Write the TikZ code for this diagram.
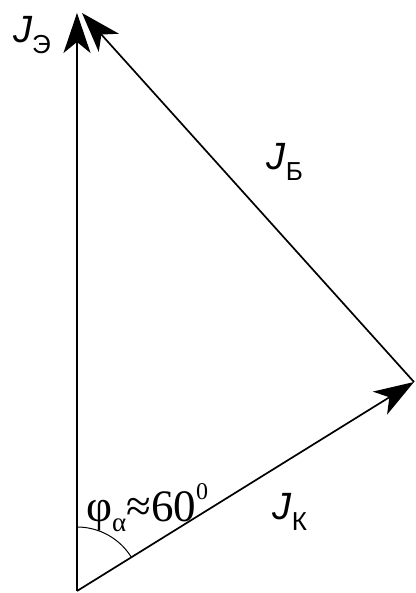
\documentclass[tikz,border=0pt]{standalone}
\usepackage{fontspec}
\setmainfont{Liberation Serif}
\newfontfamily\vecfont{Liberation Sans}
\usetikzlibrary{arrows.meta}
\newcommand{\vecj}[1]{{\vecfont\itshape J}\raisebox{-0.28em}{\vecfont\fontsize{26}{26}\selectfont #1}}

\begin{document}
\begin{tikzpicture}[x=1pt,y=1pt,
  vec/.style={-{Stealth[length=40pt,width=27pt,inset=11pt]},line width=1.7pt},
  lbl/.style={font=\vecfont\fontsize{38}{38}\selectfont,inner sep=0pt}]
  \useasboundingbox (0,0) rectangle (415,593);
  % Points
  \coordinate (O) at (77,2);
  \coordinate (E) at (77,580);
  \coordinate (K) at (414,211);
  \coordinate (B) at (82,580);
  % Vectors
  \draw[vec] (O) -- (E);
  \draw[vec] (O) -- (K);
  \draw[vec] (K) -- (B);
  % Angle
  \draw[line width=1pt] ([shift={(90:64)}]O) arc (90:31.8:64);
  % Labels
  \node[lbl] (je) at (32,558) {\vecj{Э}};
  \node[lbl] (jb) at (285,431) {\vecj{Б}};
  \node[lbl] (jk) at (290,81) {\vecj{К}};
  \node[inner sep=0pt,anchor=base west,font=\rmfamily\fontsize{45}{45}\selectfont] (phi) at (86,71)
    {φ\raisebox{-0.22em}{\fontsize{27}{27}\selectfont α}≈60\raisebox{0.5em}{\fontsize{24}{24}\selectfont 0}};
\end{tikzpicture}
\end{document}
